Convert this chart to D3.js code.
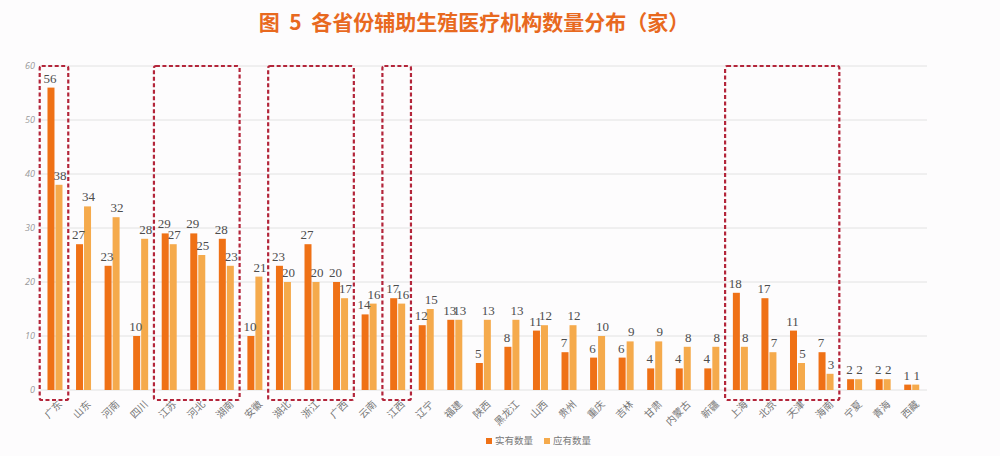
<!DOCTYPE html>
<html>
<head>
<meta charset="utf-8">
<script src="https://cdn.jsdelivr.net/npm/d3@7"></script>
<style>
  body { margin:0; background:#fdfcfd; }
  svg { display:block; }
</style>
</head>
<body>
<svg id="chart"></svg>
<script>
// provinces and the two series (实有 / 应有)
var provinces = ['广东','山东','河南','四川','江苏','河北','湖南','安徽','湖北','浙江','广西','云南','江西','辽宁','福建','陕西','黑龙江','山西','贵州','重庆','吉林','甘肃','内蒙古','新疆','上海','北京','天津','海南','宁夏','青海','西藏'];
var actual  = [56,27,23,10,29,29,28,10,23,27,20,14,17,12,13,5,8,11,7,6,6,4,4,4,18,17,11,7,2,2,1];
var planned = [38,34,32,28,27,25,23,21,20,20,17,16,16,15,13,13,13,12,12,10,9,9,8,8,8,7,5,3,2,2,1];
var yTicks  = [0,10,20,30,40,50,60];
var seriesNames = ['实有数量','应有数量'];
// groups of provinces that get a dashed box
var boxes = [['广东','广东'],['江苏','湖南'],['湖北','广西'],['江西','江西'],['上海','海南']];

var W = 1000, H = 456;
var colors = ['#ef7116','#f5aa4c'];

var svg = d3.select('#chart').attr('width',W).attr('height',H);

var x = d3.scaleBand().domain(provinces).range([40.7,926]).padding(0);
var y = d3.scaleLinear().domain([0,60]).range([390,66]);

svg.append('text')
	.attr('x',474).attr('y',30)
	.attr('text-anchor','middle')
	.attr('font-family','"Noto Sans CJK SC"')
	.attr('font-weight','bold')
	.attr('font-size',21)
	.attr('fill','#e8691f')
	.attr('xml:space','preserve')
	.text('图  5  各省份辅助生殖医疗机构数量分布（家）');

// grid
svg.append('g').selectAll('line').data(yTicks).enter().append('line')
	.attr('x1',40).attr('x2',927)
	.attr('y1',function(d){ return y(d);})
	.attr('y2',function(d){ return y(d);})
	.attr('stroke','#e2e2e2').attr('stroke-width',1);

var yAxis = d3.axisLeft(y).tickValues(yTicks).tickSize(0).tickPadding(0);
var ya = svg.append('g').attr('transform','translate(35,0)').call(yAxis);
ya.select('.domain').remove();
ya.selectAll('text').attr('font-size',9).attr('fill','#999')
	.attr('font-family','"Open Sans"').attr('font-style','italic');

var bw = 7;
var groups = svg.append('g').selectAll('g').data(provinces).enter().append('g')
	.attr('transform',function(d){ return 'translate('+(x(d)+x.bandwidth()/2)+',0)';});

groups.append('rect')
	.attr('x',-bw-0.5)
	.attr('y',function(d,i){ return y(actual[i]);})
	.attr('width',bw)
	.attr('height',function(d,i){ return y(0)-y(actual[i]);})
	.attr('fill',colors[0]);

groups.append('rect')
	.attr('x',0.5)
	.attr('y',function(d,i){ return y(planned[i]);})
	.attr('width',bw)
	.attr('height',function(d,i){ return y(0)-y(planned[i]);})
	.attr('fill',colors[1]);

groups.append('text')
	.attr('x',-bw/2-1.5)
	.attr('y',function(d,i){ return y(actual[i])-5;})
	.attr('text-anchor','middle')
	.attr('font-family','"Liberation Serif"').attr('font-size',13)
	.attr('fill','#4d4d4d')
	.text(function(d,i){ return actual[i];});

groups.append('text')
	.attr('x',bw/2+1.5)
	.attr('y',function(d,i){ return y(planned[i])-5;})
	.attr('text-anchor','middle')
	.attr('font-family','"Liberation Serif"').attr('font-size',13)
	.attr('fill','#4d4d4d')
	.text(function(d,i){ return planned[i];});

// x labels, rotated
groups.append('text')
	.attr('transform','translate(3,400) rotate(-45)')
	.attr('text-anchor','end')
	.attr('dy','0.7em')
	.attr('font-family','"Noto Sans CJK SC"').attr('font-size',10)
	.attr('fill','#777')
	.text(function(d){ return d;});

// dashed boxes
svg.append('g').selectAll('rect').data(boxes).enter().append('rect')
	.attr('x',function(b){ return x(b[0])-1;})
	.attr('y',66)
	.attr('width',function(b){ return x(b[1])+x.bandwidth()-x(b[0]);})
	.attr('height',334)
	.attr('rx',2)
	.attr('fill','none')
	.attr('stroke','#b3253a')
	.attr('stroke-width',2.2)
	.attr('stroke-dasharray','4,2.5');

// legend
var lg = svg.append('g').selectAll('g').data(seriesNames).enter().append('g')
	.attr('transform',function(d,i){ return 'translate('+(486+i*58)+',441)';});
lg.append('rect').attr('x',0).attr('y',-3).attr('width',6).attr('height',6)
	.attr('fill',function(d,i){ return colors[i];});
lg.append('text').attr('x',9).attr('y',0).attr('dy','0.35em')
	.attr('font-family','"Noto Sans CJK SC"').attr('font-size',9.5)
	.attr('fill','#777')
	.text(function(d){ return d;});
</script>
</body>
</html>
